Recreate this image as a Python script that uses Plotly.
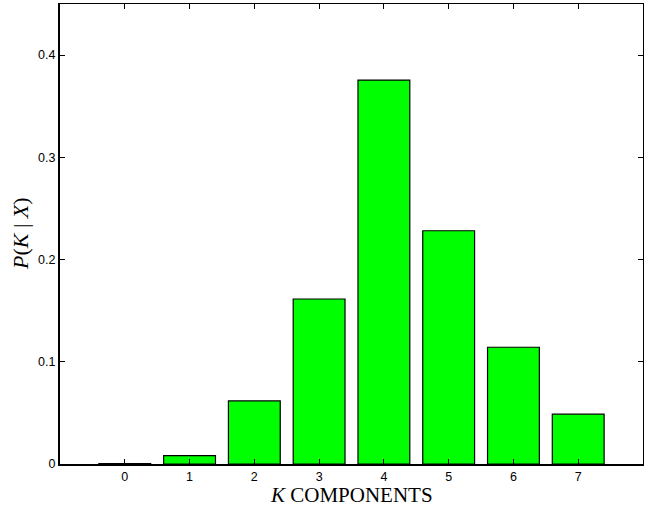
import plotly.graph_objects as go

components = [0, 1, 2, 3, 4, 5, 6, 7]
probs = [0.0004, 0.0081, 0.0617, 0.1614, 0.3756, 0.2282, 0.1142, 0.0487]
y_ticks = [0, 0.1, 0.2, 0.3, 0.4]
y_tick_labels = ["0", "0.1", "0.2", "0.3", "0.4"]

W, H = 661, 508
ml, mr, mt, mb = 60, 18, 4, 44
pw = W - ml - mr
ph = H - mt - mb

fig = go.Figure()
fig.add_trace(go.Bar(
    x=components, y=probs, width=0.8,
    marker=dict(color="#00FF00", line=dict(color="black", width=1.2)),
    showlegend=False, hoverinfo="x+y",
))
# dummy trace for mirrored top/right axes
fig.add_trace(go.Scatter(x=[components[0]], y=[0], xaxis="x2", yaxis="y2",
                         mode="markers", marker=dict(opacity=0), showlegend=False,
                         hoverinfo="skip"))

tickfont = dict(family="Liberation Sans, Arial, sans-serif", size=12.5, color="black")
fig.update_layout(
    width=W, height=H,
    margin=dict(l=ml, r=mr, t=mt, b=mb),
    paper_bgcolor="white", plot_bgcolor="white",
    bargap=0.2,
    xaxis=dict(range=[-1, 8], tickvals=components, ticktext=[str(c) for c in components],
               ticks="inside", ticklen=5, tickwidth=1, tickcolor="black",
               showline=True, linecolor="black", linewidth=2, showgrid=False,
               zeroline=False, tickfont=tickfont, fixedrange=True),
    yaxis=dict(range=[0, 0.45], tickvals=y_ticks, ticktext=y_tick_labels,
               ticks="inside", ticklen=5, tickwidth=1, tickcolor="black",
               showline=True, linecolor="black", linewidth=2, showgrid=False,
               zeroline=False, tickfont=tickfont, fixedrange=True),
    xaxis2=dict(overlaying="x", side="top", matches="x", range=[-1, 8],
                tickvals=components, showticklabels=False,
                ticks="inside", ticklen=5, tickwidth=1, tickcolor="black",
                showline=True, linecolor="black", linewidth=1, showgrid=False,
                zeroline=False, fixedrange=True),
    yaxis2=dict(overlaying="y", side="right", matches="y", range=[0, 0.45],
                tickvals=y_ticks, showticklabels=False,
                ticks="inside", ticklen=5, tickwidth=1, tickcolor="black",
                showline=True, linecolor="black", linewidth=1, showgrid=False,
                zeroline=False, fixedrange=True),
    annotations=[
        dict(text="<i>K</i> COMPONENTS", xref="paper", yref="paper",
             x=0.5, y=-(481 - (H - mb)) / ph, xanchor="center", yanchor="top",
             showarrow=False,
             font=dict(family="Liberation Serif, Times New Roman, serif", size=21, color="black")),
        dict(text="<i>P</i>(<i>K</i> | <i>X</i>)", xref="paper", yref="paper",
             x=-(ml - 20) / pw, y=0.5, xanchor="center", yanchor="middle",
             textangle=-90, showarrow=False,
             font=dict(family="Liberation Serif, Times New Roman, serif", size=22, color="black")),
    ],
)

fig.write_html("out.html", config={"displayModeBar": False},
               post_script="document.body.style.margin='0';")
